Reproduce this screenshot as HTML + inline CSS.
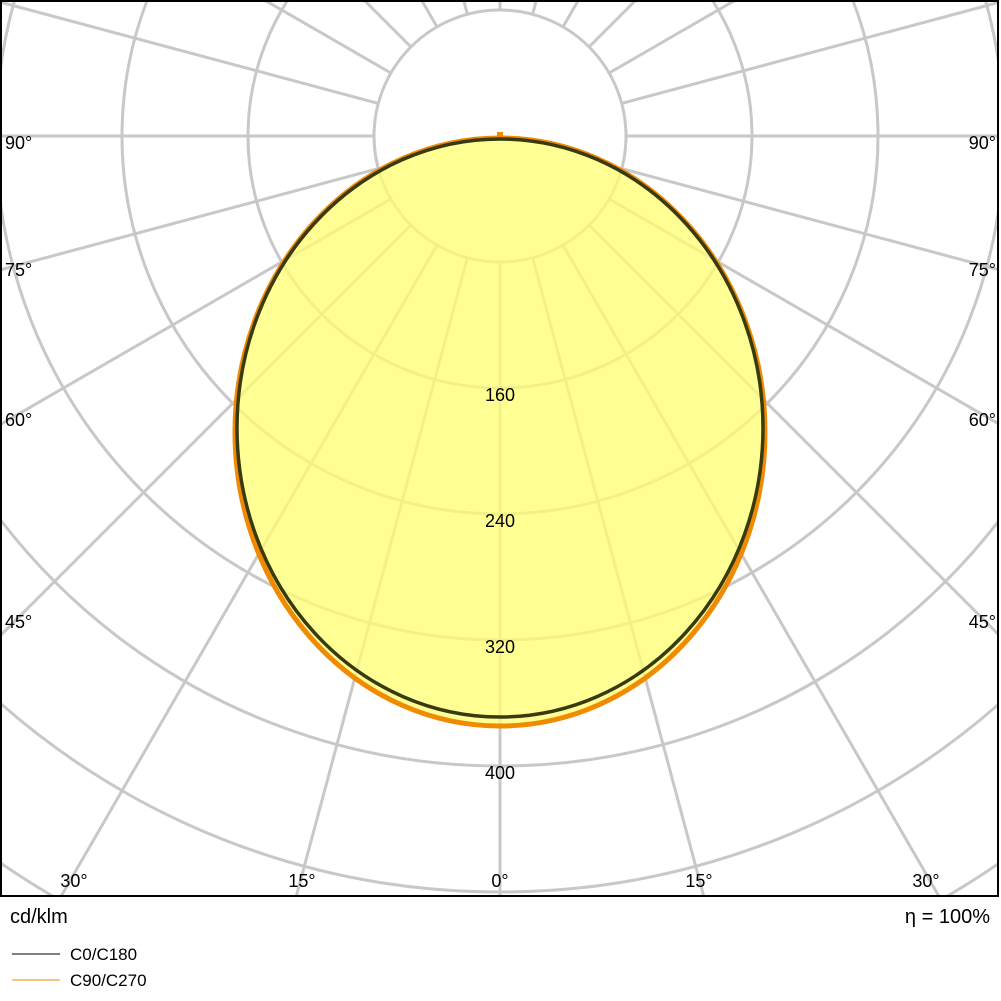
<!DOCTYPE html>
<html><head><style>
html,body{margin:0;background:#fff;overflow:hidden;width:1001px;height:1001px;}
svg{display:block;font-family:"Liberation Sans",sans-serif;}
</style></head><body>
<svg width="1001" height="1001" viewBox="0 0 1001 1001">
<defs><clipPath id="c"><rect x="1" y="1" width="997" height="895"/></clipPath></defs>
<g clip-path="url(#c)" stroke="#c8c8c8" stroke-width="3" fill="none">
<circle cx="500" cy="136" r="126"/>
<circle cx="500" cy="136" r="252"/>
<circle cx="500" cy="136" r="378"/>
<circle cx="500" cy="136" r="504"/>
<circle cx="500" cy="136" r="630"/>
<circle cx="500" cy="136" r="756"/>
<circle cx="500" cy="136" r="882"/>
<line x1="500" y1="262" x2="500" y2="1400"/>
<line x1="500" y1="262" x2="500" y2="1400" transform="rotate(15 500 136)"/>
<line x1="500" y1="262" x2="500" y2="1400" transform="rotate(30 500 136)"/>
<line x1="500" y1="262" x2="500" y2="1400" transform="rotate(45 500 136)"/>
<line x1="500" y1="262" x2="500" y2="1400" transform="rotate(60 500 136)"/>
<line x1="500" y1="262" x2="500" y2="1400" transform="rotate(75 500 136)"/>
<line x1="500" y1="262" x2="500" y2="1400" transform="rotate(90 500 136)"/>
<line x1="500" y1="262" x2="500" y2="1400" transform="rotate(105 500 136)"/>
<line x1="500" y1="262" x2="500" y2="1400" transform="rotate(120 500 136)"/>
<line x1="500" y1="262" x2="500" y2="1400" transform="rotate(135 500 136)"/>
<line x1="500" y1="262" x2="500" y2="1400" transform="rotate(150 500 136)"/>
<line x1="500" y1="262" x2="500" y2="1400" transform="rotate(165 500 136)"/>
<line x1="500" y1="262" x2="500" y2="1400" transform="rotate(180 500 136)"/>
<line x1="500" y1="262" x2="500" y2="1400" transform="rotate(-15 500 136)"/>
<line x1="500" y1="262" x2="500" y2="1400" transform="rotate(-30 500 136)"/>
<line x1="500" y1="262" x2="500" y2="1400" transform="rotate(-45 500 136)"/>
<line x1="500" y1="262" x2="500" y2="1400" transform="rotate(-60 500 136)"/>
<line x1="500" y1="262" x2="500" y2="1400" transform="rotate(-75 500 136)"/>
<line x1="500" y1="262" x2="500" y2="1400" transform="rotate(-90 500 136)"/>
<line x1="500" y1="262" x2="500" y2="1400" transform="rotate(-105 500 136)"/>
<line x1="500" y1="262" x2="500" y2="1400" transform="rotate(-120 500 136)"/>
<line x1="500" y1="262" x2="500" y2="1400" transform="rotate(-135 500 136)"/>
<line x1="500" y1="262" x2="500" y2="1400" transform="rotate(-150 500 136)"/>
<line x1="500" y1="262" x2="500" y2="1400" transform="rotate(-165 500 136)"/>
</g>
<ellipse cx="500" cy="432" rx="265" ry="294" fill="#ffff70" fill-opacity="0.75"/>
<ellipse cx="500" cy="432" rx="265" ry="294" fill="none" stroke="#f08a00" stroke-width="5"/>
<ellipse cx="500" cy="428" rx="263" ry="289" fill="none" stroke="#3a3a10" stroke-width="3.5"/>
<rect x="497" y="132" width="6" height="5" fill="#f08a00"/>
<rect x="1" y="1" width="997" height="895" fill="none" stroke="#000" stroke-width="2"/>
<g font-size="18" fill="#000">
<text x="500" y="401" text-anchor="middle">160</text>
<text x="500" y="527" text-anchor="middle">240</text>
<text x="500" y="653" text-anchor="middle">320</text>
<text x="500" y="779" text-anchor="middle">400</text>
<text x="5" y="149">90°</text>
<text x="5" y="276">75°</text>
<text x="5" y="426">60°</text>
<text x="5" y="628">45°</text>
<text x="996" y="149" text-anchor="end">90°</text>
<text x="996" y="276" text-anchor="end">75°</text>
<text x="996" y="426" text-anchor="end">60°</text>
<text x="996" y="628" text-anchor="end">45°</text>
<text x="74" y="887" text-anchor="middle">30°</text>
<text x="302" y="887" text-anchor="middle">15°</text>
<text x="500" y="887" text-anchor="middle">0°</text>
<text x="699" y="887" text-anchor="middle">15°</text>
<text x="926" y="887" text-anchor="middle">30°</text>
</g>
<g font-size="20" fill="#000">
<text x="10" y="923">cd/klm</text>
<text x="990" y="923" text-anchor="end">η = 100%</text>
</g>
<line x1="12" y1="954" x2="60" y2="954" stroke="#000" stroke-width="1"/>
<line x1="12" y1="980" x2="60" y2="980" stroke="#f08a00" stroke-width="1"/>
<g font-size="17" fill="#000">
<text x="70" y="960">C0/C180</text>
<text x="70" y="986">C90/C270</text>
</g>
</svg>
</body></html>
